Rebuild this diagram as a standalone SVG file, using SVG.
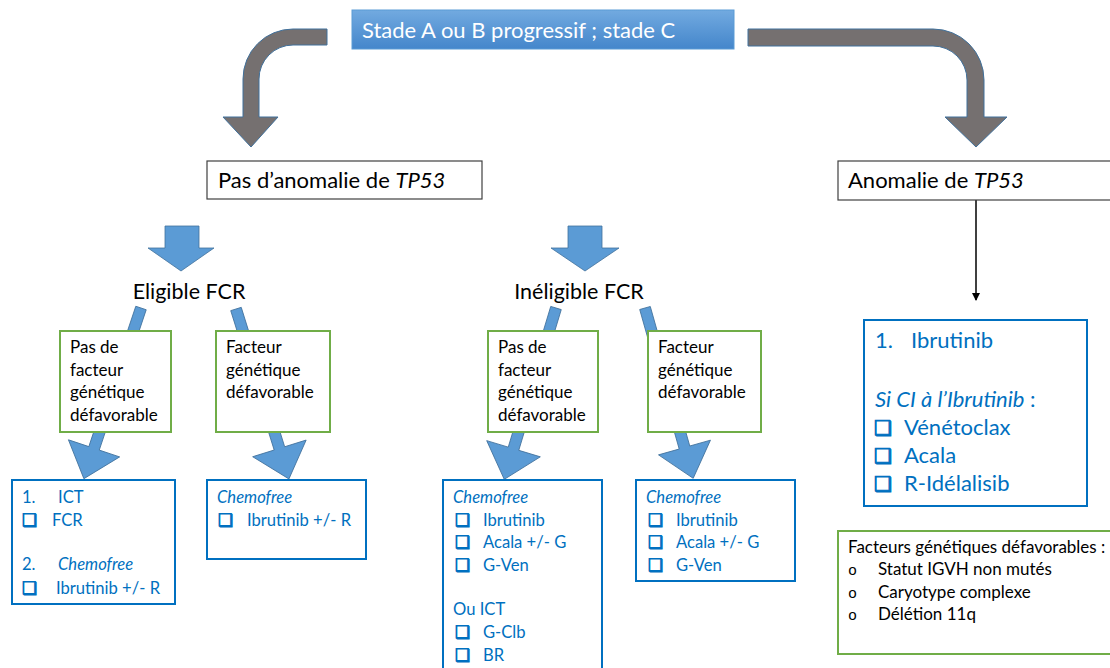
<svg xmlns="http://www.w3.org/2000/svg" width="1110" height="668" viewBox="0 0 1110 668">
<style>
  text { font-family: Lato, "Open Sans", sans-serif; }
  .blk { fill: #000; }
  .blu { fill: #0070c0; }
  .wht { fill: #fff; }
  .f20 { font-size: 21.5px; }
  .f22 { font-size: 22px; }
  .f16 { font-size: 17px; }
  .fb { font-size: 16.6px; }
  .f15 { font-size: 17px; }
  .it { font-style: italic; }
  .cb { font-family: "DejaVu Sans", sans-serif; font-size: 17px; stroke: #0070c0; stroke-width: 0.9; }
  .cbl { font-family: "DejaVu Sans", sans-serif; font-size: 20px; stroke: #0070c0; stroke-width: 1; }
  .bul { font-family: "Liberation Mono", monospace; font-size: 15px; }
  .blackbox { fill: #fff; stroke: #404040; stroke-width: 1.2; }
  .greenbox { fill: #fff; stroke: #70ad47; stroke-width: 2; }
  .bluebox { fill: #fff; stroke: #0070c0; stroke-width: 2; }
  .garrow { fill: #757070; stroke: #41719c; stroke-width: 1; }
  .barrow { fill: #5b9bd5; stroke: #41719c; stroke-width: 0.8; }
</style>
<defs>
  <linearGradient id="topgrad" x1="0" y1="0" x2="0" y2="1">
    <stop offset="0" stop-color="#72aae0"/>
    <stop offset="1" stop-color="#4486cb"/>
  </linearGradient>
  <marker id="ah" markerWidth="8" markerHeight="8" refX="7" refY="4" orient="auto" markerUnits="userSpaceOnUse">
    <path d="M0,0 L8,4 L0,8 Z" fill="#000"/>
  </marker>
</defs>
<rect width="1110" height="668" fill="#fff"/>

<g id="connectors">
  <path class="garrow" d="M327,29 L293,29 A50,50 0 0 0 243,79 L243,117 L223,117 L251,147 L278,117 L259,117 L259,79 A34,34 0 0 1 293,45 L327,45 Z"/>
  <path class="garrow" d="M748,29 L933,29 A51,51 0 0 1 984,80 L984,117 L1007,117 L976,147 L945,117 L967,117 L967,80 A34,34 0 0 0 933,46 L748,46 Z"/>
  <path class="barrow" d="M165,226 L199,226 L199,248 L214,248 L181,271 L148,248 L165,248 Z"/>
  <path class="barrow" d="M568,226 L602,226 L602,248 L619,248 L585,271 L551,248 L568,248 Z"/>
  <g transform="translate(141,308) rotate(108.5)">
    <polygon class="barrow" points="0,-5.5 148,-5.5 148,-27 180,0 148,27 148,5.5 0,5.5"/>
  </g>
  <g transform="translate(236,309) rotate(72.7)">
    <polygon class="barrow" points="0,-5.5 146,-5.5 146,-28 178,0 146,28 146,5.5 0,5.5"/>
  </g>
  <g transform="translate(556,308) rotate(106.8)">
    <polygon class="barrow" points="0,-5.5 147,-5.5 147,-28 179,0 147,28 147,5.5 0,5.5"/>
  </g>
  <g transform="translate(645,308) rotate(74.2)">
    <polygon class="barrow" points="0,-5.5 145,-5.5 145,-27 177,0 145,27 145,5.5 0,5.5"/>
  </g>
  <line x1="976" y1="200" x2="976" y2="300" stroke="#000" stroke-width="1.5" marker-end="url(#ah)"/>
</g>

<g id="start">
  <rect x="352" y="10" width="382" height="39" fill="url(#topgrad)" stroke="#5b9bd5" stroke-width="1"/>
  <text x="362" y="38" class="wht f22">Stade A ou B progressif ; stade C</text>
</g>

<g id="no-tp53">
  <rect class="blackbox" x="207" y="161" width="275" height="38"/>
  <text x="218" y="188" class="blk f22">Pas d’anomalie de <tspan class="it">TP53</tspan></text>
</g>

<g id="tp53">
  <rect class="blackbox" x="838" y="161" width="280" height="39"/>
  <text x="848" y="188" class="blk f22">Anomalie de <tspan class="it">TP53</tspan></text>
</g>

<g id="eligible">
  <text x="189" y="299" text-anchor="middle" class="blk f20">Eligible FCR</text>
</g>

<g id="ineligible">
  <text x="579" y="299" text-anchor="middle" class="blk f20">Inéligible FCR</text>
</g>

<g id="elig-nofactor">
  <rect class="greenbox" x="60" y="331" width="111" height="101"/>
  <text class="blk f16"><tspan x="70" y="353">Pas de</tspan><tspan x="70" y="376">facteur</tspan><tspan x="70" y="398">génétique</tspan><tspan x="70" y="421">défavorable</tspan></text>
</g>

<g id="elig-factor">
  <rect class="greenbox" x="216" y="331" width="114" height="101"/>
  <text class="blk f16"><tspan x="226" y="353">Facteur</tspan><tspan x="226" y="376">génétique</tspan><tspan x="226" y="398">défavorable</tspan></text>
</g>

<g id="inelig-nofactor">
  <rect class="greenbox" x="488" y="331" width="110" height="101"/>
  <text class="blk f16"><tspan x="498" y="353">Pas de</tspan><tspan x="498" y="376">facteur</tspan><tspan x="498" y="398">génétique</tspan><tspan x="498" y="421">défavorable</tspan></text>
</g>

<g id="inelig-factor">
  <rect class="greenbox" x="648" y="331" width="113" height="101"/>
  <text class="blk f16"><tspan x="658" y="353">Facteur</tspan><tspan x="658" y="376">génétique</tspan><tspan x="658" y="398">défavorable</tspan></text>
</g>

<g id="res-elig-nofactor">
  <rect class="bluebox" x="12" y="480" width="163" height="124"/>
  <text x="22" y="503" class="blu fb">1.</text>
  <text x="58" y="503" class="blu fb">ICT</text>
  <text x="22" y="526" class="blu cb">❑</text>
  <text x="52" y="526" class="blu fb">FCR</text>
  <text x="22" y="570" class="blu fb">2.</text>
  <text x="58" y="570" class="blu fb it">Chemofree</text>
  <text x="22" y="594" class="blu cb">❑</text>
  <text x="56" y="594" class="blu fb">Ibrutinib +/- R</text>
</g>

<g id="res-elig-factor">
  <rect class="bluebox" x="207" y="480" width="159" height="79"/>
  <text x="217" y="503" class="blu fb it">Chemofree</text>
  <text x="218" y="526" class="blu cb">❑</text>
  <text x="247" y="526" class="blu fb">Ibrutinib +/- R</text>
</g>

<g id="res-inelig-nofactor">
  <rect class="bluebox" x="443" y="480" width="159" height="200"/>
  <text x="453" y="503" class="blu fb it">Chemofree</text>
  <text x="455" y="526" class="blu cb">❑</text>
  <text x="483" y="526" class="blu fb">Ibrutinib</text>
  <text x="455" y="548" class="blu cb">❑</text>
  <text x="483" y="548" class="blu fb">Acala +/- G</text>
  <text x="455" y="571" class="blu cb">❑</text>
  <text x="483" y="571" class="blu fb">G-Ven</text>
  <text x="453" y="615" class="blu fb">Ou ICT</text>
  <text x="455" y="638" class="blu cb">❑</text>
  <text x="483" y="638" class="blu fb">G-Clb</text>
  <text x="455" y="661" class="blu cb">❑</text>
  <text x="483" y="661" class="blu fb">BR</text>
</g>

<g id="res-inelig-factor">
  <rect class="bluebox" x="636" y="480" width="159" height="101"/>
  <text x="646" y="503" class="blu fb it">Chemofree</text>
  <text x="648" y="526" class="blu cb">❑</text>
  <text x="676" y="526" class="blu fb">Ibrutinib</text>
  <text x="648" y="548" class="blu cb">❑</text>
  <text x="676" y="548" class="blu fb">Acala +/- G</text>
  <text x="648" y="571" class="blu cb">❑</text>
  <text x="676" y="571" class="blu fb">G-Ven</text>
</g>

<g id="res-tp53">
  <rect class="bluebox" x="864" y="320" width="223" height="186"/>
  <text x="875" y="348" class="blu f22">1.</text>
  <text x="911" y="348" class="blu f22">Ibrutinib</text>
  <text x="875" y="407" class="blu f22"><tspan class="it">Si CI à l’Ibrutinib</tspan> :</text>
  <text x="874" y="435" class="blu cbl">❑</text>
  <text x="904" y="435" class="blu f22">Vénétoclax</text>
  <text x="874" y="463" class="blu cbl">❑</text>
  <text x="904" y="463" class="blu f22">Acala</text>
  <text x="874" y="491" class="blu cbl">❑</text>
  <text x="904" y="491" class="blu f22">R-Idélalisib</text>
</g>

<g id="legend">
  <rect class="greenbox" x="838" y="531" width="280" height="123"/>
  <text x="848" y="553" class="blk f15">Facteurs génétiques défavorables :</text>
  <text x="848" y="575" class="blk bul">o</text>
  <text x="878" y="575" class="blk f15">Statut IGVH non mutés</text>
  <text x="848" y="598" class="blk bul">o</text>
  <text x="878" y="598" class="blk f15">Caryotype complexe</text>
  <text x="848" y="620" class="blk bul">o</text>
  <text x="878" y="620" class="blk f15">Délétion 11q</text>
</g>
</svg>
